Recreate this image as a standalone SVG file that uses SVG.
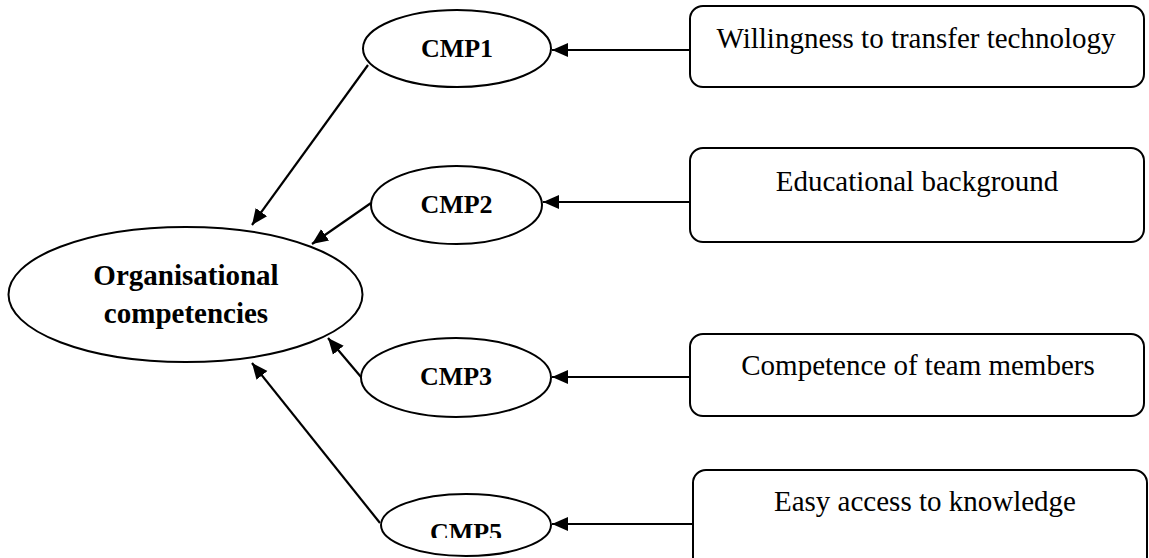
<svg xmlns="http://www.w3.org/2000/svg" width="1149" height="558" viewBox="0 0 1149 558">
  <style>
    .shape { fill: #ffffff; stroke: #000000; stroke-width: 2; }
    .edge { fill: none; stroke: #000000; stroke-width: 2.2; marker-end: url(#arrow); }
    .lbl { font-family: "Liberation Serif", "Times New Roman", serif; font-size: 29px; fill: #000000; text-anchor: middle; }
    .bold { font-weight: bold; }
    .cmp { font-family: "Liberation Serif", "Times New Roman", serif; font-size: 26px; font-weight: bold; fill: #000000; text-anchor: middle; }
  </style>
  <defs>
    <marker id="arrow" markerUnits="userSpaceOnUse" markerWidth="16" markerHeight="16" viewBox="0 0 16 14" refX="16" refY="7" orient="auto">
      <path d="M0,0 L16,7 L0,14 Z" fill="#000000"/>
    </marker>
    <clipPath id="cmp5clip">
      <rect x="380" y="490" width="175" height="48"/>
    </clipPath>
  </defs>

  <rect width="1149" height="558" fill="#ffffff"/>

  <!-- connectors -->
  <g id="connectors">
    <line class="edge" x1="690" y1="50" x2="552" y2="50"/>
    <line class="edge" x1="690" y1="202" x2="543" y2="202"/>
    <line class="edge" x1="690" y1="377" x2="552" y2="377"/>
    <line class="edge" x1="693" y1="524" x2="552" y2="524"/>
    <line class="edge" x1="368" y1="65" x2="252" y2="225"/>
    <line class="edge" x1="371" y1="203" x2="312" y2="244"/>
    <line class="edge" x1="361" y1="377" x2="328" y2="338"/>
    <line class="edge" x1="380" y1="523" x2="252" y2="363"/>
  </g>

  <!-- central concept -->
  <g id="organisational-competencies">
    <ellipse class="shape" cx="185.5" cy="294.5" rx="177" ry="67.5"/>
    <text class="lbl bold" x="186" y="285">Organisational</text>
    <text class="lbl bold" x="186" y="323">competencies</text>
  </g>

  <!-- indicator ellipses -->
  <g id="cmp1">
    <ellipse class="shape" cx="457" cy="48.5" rx="94" ry="38.5"/>
    <text class="cmp" x="457" y="57">CMP1</text>
  </g>
  <g id="cmp2">
    <ellipse class="shape" cx="456.5" cy="205" rx="85.5" ry="39"/>
    <text class="cmp" x="456.5" y="213">CMP2</text>
  </g>
  <g id="cmp3">
    <ellipse class="shape" cx="456" cy="377.5" rx="95" ry="39.5"/>
    <text class="cmp" x="456" y="385">CMP3</text>
  </g>
  <g id="cmp5">
    <ellipse class="shape" cx="466" cy="525" rx="85" ry="31"/>
    <text class="cmp" x="466" y="541" clip-path="url(#cmp5clip)">CMP5</text>
  </g>

  <!-- factor boxes -->
  <g id="willingness">
    <rect class="shape" x="690" y="6" width="454" height="81" rx="13" ry="13"/>
    <text class="lbl" x="916" y="48">Willingness to transfer technology</text>
  </g>
  <g id="education">
    <rect class="shape" x="690" y="148" width="454" height="94" rx="13" ry="13"/>
    <text class="lbl" x="917" y="191">Educational background</text>
  </g>
  <g id="competence">
    <rect class="shape" x="690" y="334" width="454" height="82" rx="13" ry="13"/>
    <text class="lbl" x="918" y="375">Competence of team members</text>
  </g>
  <g id="access">
    <rect class="shape" x="693" y="470" width="454" height="110" rx="13" ry="13"/>
    <text class="lbl" x="925" y="511">Easy access to knowledge</text>
  </g>
</svg>
